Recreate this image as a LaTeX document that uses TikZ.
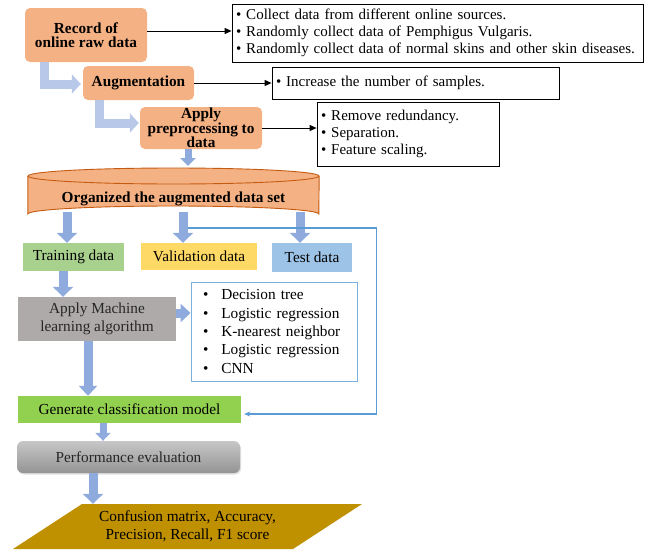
\documentclass[tikz,border=0pt]{standalone}
\usepackage{fontspec}
\setmainfont{Liberation Serif}
\usetikzlibrary{arrows.meta,calc,shadows}
\definecolor{orng}{HTML}{F4B183}
\definecolor{cylborder}{HTML}{C55A11}
\definecolor{trainc}{HTML}{A9D18E}
\definecolor{valc}{HTML}{FFD966}
\definecolor{testc}{HTML}{9DC3E6}
\definecolor{genc}{HTML}{92D050}
\definecolor{mlc}{HTML}{AEAAAA}
\definecolor{parc}{HTML}{BF9000}
\definecolor{fatblue}{HTML}{8FAADC}
\definecolor{lavblue}{HTML}{B8C8E8}
\definecolor{fbblue}{HTML}{5B9BD5}
\definecolor{algborder}{HTML}{7EB0DE}
\begin{document}
\begin{tikzpicture}[x=1pt,y=-1pt,
  font=\fontsize{15.3}{17}\selectfont,
  orangebox/.style={fill=orng, rounded corners=5pt, font=\fontsize{15.3}{14.5}\selectfont\bfseries, align=center, inner sep=0pt},
  listbox/.style={draw=black, line width=0.8pt, align=left, inner xsep=4pt, inner ysep=0pt, font=\fontsize{15}{17}\selectfont},
  databox/.style={inner sep=0pt, align=center},
  thinarr/.style={draw=black, line width=1pt, -{Triangle[length=7pt,width=6pt]}},
  fat/.style={draw=fatblue, line width=9pt, -{Triangle[length=10pt,width=20pt]}},
  smallfat/.style={draw=fatblue, line width=7pt, -{Triangle[length=8pt,width=15pt]}},
  lav/.style={draw=lavblue, line width=9pt, line join=miter, -{Triangle[length=9pt,width=19pt]}},
  fbline/.style={draw=fbblue, line width=1.4pt, -{Stealth[length=6pt,width=5pt]}}]
\useasboundingbox (0,0) rectangle (645,549);

% top orange steps
\node[orangebox, minimum width=122pt, minimum height=54pt] (rec) at (86,35) {Record of\\online raw data};
\node[listbox, text width=403pt, minimum height=58pt] (l1) at (437.5,33) {\textbullet\ Collect data from different online sources.\\\textbullet\ Randomly collect data of Pemphigus Vulgaris.\\\textbullet\ Randomly collect data of normal skins and other skin diseases.};
\node[orangebox, minimum width=111pt, minimum height=34pt] (aug) at (138.5,83) {Augmentation};
\node[listbox, text width=279pt, minimum height=32pt] (l2) at (415.5,83) {\textbullet\ Increase the number of samples.};
\node[orangebox, minimum width=122pt, minimum height=42pt] (pre) at (201,128) {Apply\\preprocessing to\\data};
\node[listbox, text width=174pt, minimum height=64pt] (l3) at (408,134) {\textbullet\ Remove redundancy.\\\textbullet\ Separation.\\\textbullet\ Feature scaling.};

\draw[thinarr] ([yshift=4pt]rec.east) -- ([yshift=4pt]rec.east -| l1.west);
\draw[thinarr] (aug.east) -- (aug.east -| l2.west);
\draw[thinarr] (pre.east) -- (pre.east -| l3.west);

\draw[lav] ([xshift=20pt]rec.south west) |- ([xshift=-2pt,yshift=-1pt]aug.west);
\draw[lav] ([xshift=17pt]aug.south west) |- ([xshift=-1pt,yshift=5pt]pre.west);

% cylinder
\node[minimum width=291pt, minimum height=54pt, inner sep=0pt] (cyl) at (173.5,195) {};
\draw[smallfat] ([xshift=-13pt]pre.south) -- ([xshift=-13pt]pre.south |- 0,166);

\node[databox, fill=trainc, minimum width=101pt, minimum height=28pt] (train) at (73.5,257) {Training data};
\node[databox, fill=valc, minimum width=116pt, minimum height=27pt] (val) at (199,256.5) {Validation data};
\node[databox, fill=testc, minimum width=80pt, minimum height=29pt] (test) at (312,257.5) {Test data};

\draw[fat] ([xshift=-6.5pt]train.north |- 0,212) -- ([xshift=-6.5pt]train.north);
\draw[fat] ([xshift=-16pt]val.north |- 0,212) -- ([xshift=-16pt]val.north);
\draw[fat] ([xshift=-12pt]test.north |- 0,212) -- ([xshift=-12pt]test.north);

\fill[orng] (cyl.west |- 0,176) -- (cyl.west |- 0,214) arc[start angle=180,end angle=0,x radius=145.5pt,y radius=8pt] -- (cyl.east |- 0,176) -- cycle;
\draw[cylborder, line width=0.9pt] (cyl.west |- 0,176) -- (cyl.west |- 0,214) arc[start angle=180,end angle=0,x radius=145.5pt,y radius=8pt] -- (cyl.east |- 0,176);
\draw[cylborder, line width=0.9pt, fill=orng] (cyl.center |- 0,176) ellipse[x radius=145.5pt, y radius=8pt];
\node[font=\fontsize{15.3}{15}\selectfont\bfseries] (cyltext) at (173.5,199) {Organized the augmented data set};

% ML part
\node[databox, fill=mlc, minimum width=158pt, minimum height=44pt, font=\fontsize{15.3}{18}\selectfont, text=black!85] (ml) at (97,319) {Apply Machine\\learning algorithm};
\node[draw=algborder, line width=0.9pt, minimum width=166pt, minimum height=99pt, text width=142pt, inner xsep=12pt, inner ysep=0pt, align=left, font=\fontsize{15.3}{18.4}\selectfont] (alg) at (274,331.5)
 {\textbullet\hspace{13pt}Decision tree\\\textbullet\hspace{13pt}Logistic regression\\\textbullet\hspace{13pt}K-nearest neighbor\\\textbullet\hspace{13pt}Logistic regression\\\textbullet\hspace{13pt}CNN};
\node[databox, fill=genc, minimum width=223pt, minimum height=27pt] (gen) at (129.5,409.5) {Generate classification model};
\node[databox, rounded corners=6pt, top color=black!22, bottom color=black!42, drop shadow={opacity=0.25, shadow xshift=1pt, shadow yshift=-1.5pt}, minimum width=223pt, minimum height=32pt, text=black!85] (perf) at (128.5,457) {Performance evaluation};

\draw[fat] ([xshift=-10.5pt]train.south) -- ([xshift=-10.5pt]train.south |- ml.north);
\draw[fat, -{Triangle[length=10pt,width=18pt]}] ([yshift=6pt]ml.east) -- ([yshift=6pt]ml.east -| alg.west);
\draw[fat, -{Triangle[length=10pt,width=18pt]}] ([xshift=-9pt]ml.south) -- ([xshift=-9pt]ml.south |- gen.north);
\draw[smallfat] ([xshift=-26.5pt]gen.south) -- ([xshift=-26.5pt]gen.south |- perf.north);

\coordinate (fb) at (188,228);
\draw[fbline] (fb) -| ([xshift=135pt,yshift=-4.5pt]gen.east) -- ([xshift=3pt,yshift=-4.5pt]gen.east);

% output parallelogram
\node[minimum width=280pt, minimum height=45pt, inner sep=0pt] (par) at (187.5,526.5) {};
\fill[parc] (82,504) -- (362,504) -- (293,549) -- (13,549) -- cycle;
\node[align=center, font=\fontsize{15.3}{18}\selectfont] (partext) at (187.5,526) {Confusion matrix, Accuracy,\\Precision, Recall, F1 score};
\draw[fat] ([xshift=-35.5pt]perf.south) -- ([xshift=-35.5pt]perf.south |- par.north);
\end{tikzpicture}
\end{document}
